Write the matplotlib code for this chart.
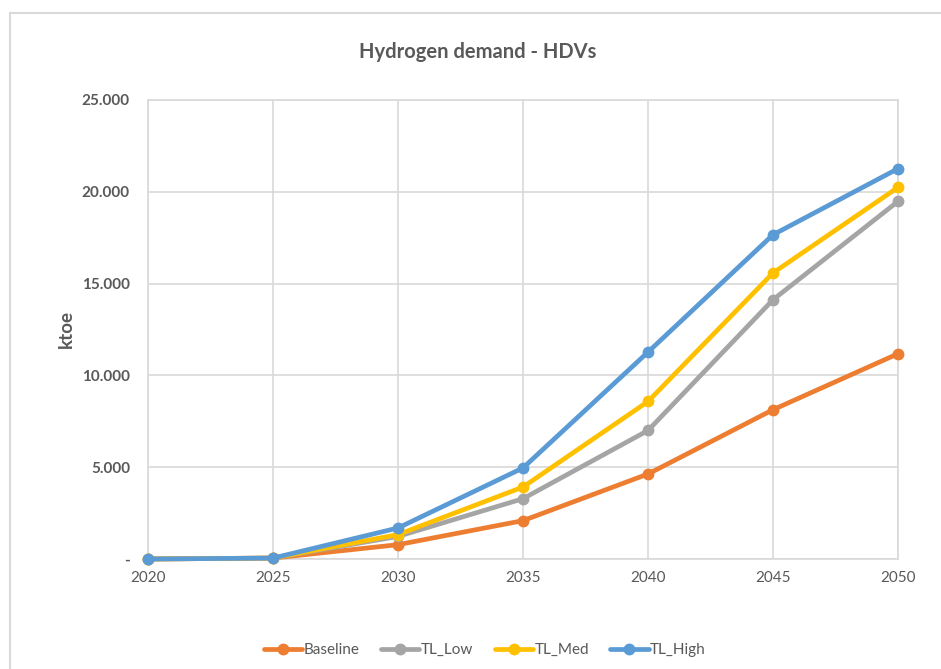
import matplotlib.pyplot as plt
from matplotlib.patches import Rectangle
from matplotlib.ticker import FuncFormatter

plt.rcParams['font.family'] = ['Lato', 'DejaVu Sans']

years = [2020, 2025, 2030, 2035, 2040, 2045, 2050]
baseline = [0, 50, 780, 2090, 4630, 8130, 11180]
tl_low = [0, 50, 1230, 3285, 7000, 14120, 19480]
tl_med = [0, 50, 1330, 3920, 8580, 15580, 20240]
tl_high = [0, 50, 1690, 4960, 11270, 17660, 21260]

series = [
    ('Baseline', baseline, '#ED7D31'),
    ('TL_Low', tl_low, '#A5A5A5'),
    ('TL_Med', tl_med, '#FFC000'),
    ('TL_High', tl_high, '#5B9BD5'),
]

text_col = '#595959'
grid_col = '#D9D9D9'

fig = plt.figure(figsize=(9.41, 6.69), dpi=100)
W, H = 941, 669

# chart frame
fig.patches.append(Rectangle((10 / W, -0.05), 1.2, (H - 13) / H + 0.05,
                             transform=fig.transFigure, fill=False,
                             edgecolor='#D9D9D9', linewidth=1.5))

ax = fig.add_axes([148 / W, (H - 559) / H, 750 / W, 459 / H])

for name, vals, col in series:
    ax.plot(years, vals, color=col, linewidth=3.4, marker='o', markersize=7.5,
            label=name, solid_capstyle='round', clip_on=False, zorder=3)

ax.set_xlim(2020, 2050)
ax.set_ylim(0, 25000)
ax.set_xticks(years)
ax.set_yticks(range(0, 25001, 5000))
ax.yaxis.set_major_formatter(FuncFormatter(
    lambda v, p: '-' if v == 0 else f'{int(v):,}'.replace(',', '.')))

ax.grid(True, color=grid_col, linewidth=1.2)
ax.set_axisbelow(True)
for s in ax.spines.values():
    s.set_color(grid_col)
    s.set_linewidth(1.2)
ax.tick_params(length=0)
ax.tick_params(axis='x', colors=text_col, labelsize=11, pad=9)
ax.tick_params(axis='y', colors=text_col, labelsize=11, pad=13)
for lbl in ax.get_yticklabels():
    lbl.set_fontweight('bold')

ax.set_ylabel('ktoe', color=text_col, fontsize=13.5, fontweight='bold', labelpad=5)

fig.text(478 / W, 1 - 52 / H, 'Hydrogen demand - HDVs', ha='center', va='center',
         fontsize=14.5, fontweight='bold', color=text_col)

fig.legend(loc='center', bbox_to_anchor=(485 / W, 1 - 650 / H), ncol=4,
           frameon=False, fontsize=11, labelcolor=text_col, handlelength=2.5,
           handletextpad=0.1, columnspacing=1.4)

fig.savefig('out.png', dpi=100, facecolor='white')
